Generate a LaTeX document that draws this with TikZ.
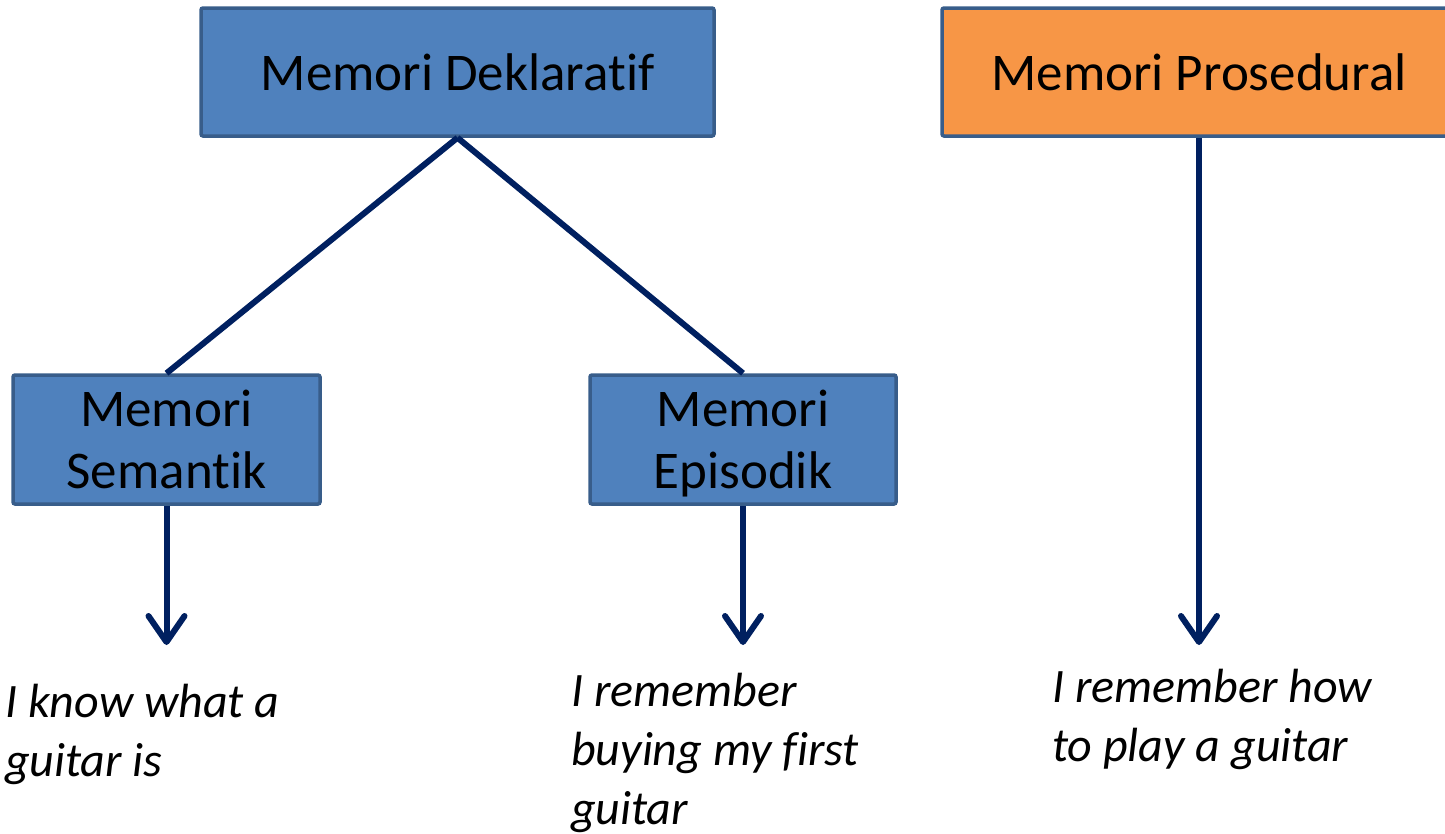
\documentclass[tikz,border=0pt]{standalone}
\usepackage{fontspec}
\setmainfont[Ligatures={NoCommon}]{Carlito}
\usetikzlibrary{arrows.meta}
\definecolor{boxblue}{HTML}{4F81BD}
\definecolor{boxedge}{HTML}{385D8A}
\definecolor{boxorange}{HTML}{F79646}
\definecolor{navy}{HTML}{002060}
\begin{document}
\begin{tikzpicture}[x=1pt,y=-1pt,
  box/.style={draw=boxedge, line width=3.5pt, rounded corners=2pt, inner sep=0pt,
    align=center, text depth=0pt, font=\fontsize{53}{62}\selectfont},
  link/.style={draw=navy, line width=6pt},
  arrowline/.style={draw=navy, line width=6pt, -{Straight Barb[length=26pt, width=36pt, round]}},
  note/.style={anchor=north west, inner sep=0pt, align=left,
    font=\fontsize{48}{59}\selectfont\itshape}]
\useasboundingbox (0,0) rectangle (1445,833);
\node[box, fill=boxblue, minimum width=513pt, minimum height=128pt] (dek) at (457.5,72) {Memori Deklaratif};
\node[box, fill=boxorange, minimum width=514pt, minimum height=128pt] (pro) at (1199,72) {Memori Prosedural};
\node[box, fill=boxblue, minimum width=307pt, minimum height=129pt] (sem) at (166.5,439.5) {Memori\\Semantik};
\node[box, fill=boxblue, minimum width=306pt, minimum height=129pt] (epi) at (743,439.5) {Memori\\Episodik};
\coordinate (semend) at (166.5,645);
\coordinate (epiend) at (743,645);
\coordinate (proend) at (1199,645);
\node[note] (t1) at (5,684) {I know what a\\guitar is};
\node[note] (t2) at (571,673) {I remember\\buying my first\\guitar};
\node[note] (t3) at (1052,669) {I remember how\\to play a guitar};
\draw[link] (dek.south) -- (sem.north);
\draw[link] (dek.south) -- (epi.north);
\draw[arrowline] (sem.south) -- (semend);
\draw[arrowline] (epi.south) -- (epiend);
\draw[arrowline] (pro.south) -- (proend);
\end{tikzpicture}
\end{document}
